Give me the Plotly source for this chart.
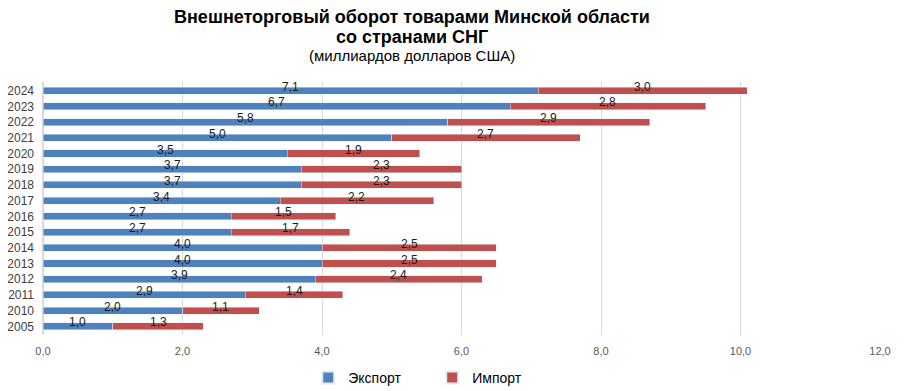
import plotly.graph_objects as go

years = ["2005", "2010", "2011", "2012", "2013", "2014", "2015", "2016",
         "2017", "2018", "2019", "2020", "2021", "2022", "2023", "2024"]
export = [1.0, 2.0, 2.9, 3.9, 4.0, 4.0, 2.7, 2.7, 3.4, 3.7, 3.7, 3.5, 5.0, 5.8, 6.7, 7.1]
imports = [1.3, 1.1, 1.4, 2.4, 2.5, 2.5, 1.7, 1.5, 2.2, 2.3, 2.3, 1.9, 2.7, 2.9, 2.8, 3.0]
x_ticks = [0, 2, 4, 6, 8, 10, 12]

def fmt(v):
    return f"{v:.1f}".replace(".", ",")

fig = go.Figure()
fig.add_trace(go.Bar(y=years, x=export, orientation="h", name="Экспорт",
                     marker=dict(color="#4F81BD")))
fig.add_trace(go.Bar(y=years, x=imports, orientation="h", name="Импорт",
                     marker=dict(color="#C0504D")))

lab_font = dict(size=12, color="#1a1a1a", family="Liberation Sans")
annotations = []
for idx, (e, i) in enumerate(zip(export, imports)):
    annotations.append(dict(x=e / 2, y=idx, text=fmt(e), showarrow=False, yshift=4,
                            xref="x", yref="y", font=lab_font))
    annotations.append(dict(x=e + i / 2, y=idx, text=fmt(i), showarrow=False, yshift=4,
                            xref="x", yref="y", font=lab_font))

title_font = dict(size=18, color="black", family="Liberation Sans")
annotations.append(dict(xref="paper", yref="paper", x=0.441, y=1.257, yanchor="middle",
                        text="<b>Внешнеторговый оборот товарами Минской области</b>",
                        showarrow=False, font=title_font))
annotations.append(dict(xref="paper", yref="paper", x=0.441, y=1.178, yanchor="middle",
                        text="<b>со странами СНГ</b>", showarrow=False, font=title_font))
annotations.append(dict(xref="paper", yref="paper", x=0.441, y=1.103, yanchor="middle",
                        text="(миллиардов долларов США)", showarrow=False,
                        font=dict(size=15, color="black", family="Liberation Sans")))

fig.update_layout(
    barmode="stack",
    bargap=0.55,
    width=898, height=383,
    margin=dict(l=35, r=26, t=74, b=56, autoexpand=False),
    paper_bgcolor="white", plot_bgcolor="white",
    showlegend=True,
    legend=dict(orientation="h", x=0.465, xanchor="center", y=-0.17, yanchor="middle",
                traceorder="normal", entrywidth=79, entrywidthmode="pixels",
                font=dict(size=14, color="black", family="Liberation Sans"),
                itemsizing="constant"),
    annotations=annotations,
)
fig.update_xaxes(range=[0, 12], tickvals=x_ticks, ticktext=[fmt(v) for v in x_ticks],
                 showgrid=True, gridcolor="#d9d9d9", zeroline=True, zerolinecolor="#d9d9d9",
                 tickfont=dict(size=11, color="#595959", family="Liberation Sans"),
                 ticks="", ticklabelstandoff=8, automargin=False)
fig.update_yaxes(type="category", categoryorder="array", categoryarray=years,
                 tickfont=dict(size=12, color="#404040", family="Liberation Sans"),
                 ticks="", showgrid=False, range=[-0.55, 15.55], ticklabelstandoff=8,
                 automargin=False)

fig.write_html("out.html")
